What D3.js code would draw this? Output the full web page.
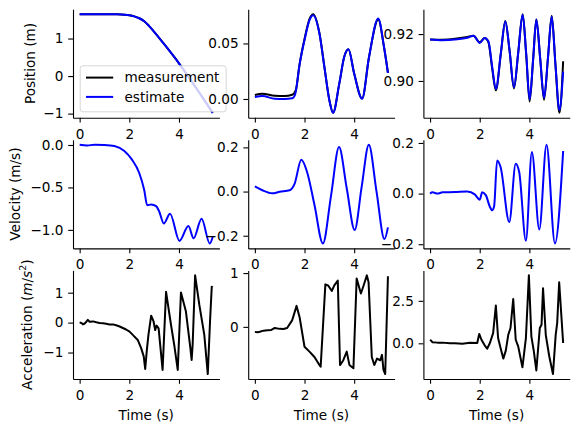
<!DOCTYPE html>
<html>
<head>
<meta charset="utf-8">
<script src="https://cdn.jsdelivr.net/npm/d3@7"></script>
<style>
  body { margin: 0; background: #fff; }
  svg text { font-family: "DejaVu Sans", sans-serif; font-size: 13.6px; fill: #000; }
</style>
</head>
<body>
<div id="chart"></div>
<script>
// --- values: [time (s), value] ---
const posXMeas = [[0,1.65],[0.5,1.65],[1.0,1.65],[1.5,1.645],[1.8,1.635],[2.0,1.62],[2.2,1.59],[2.4,1.54],[2.6,1.46],[2.8,1.33],[3.0,1.18],[3.5,0.77],[4.0,0.34],[4.5,-0.13],[5.0,-0.62],[5.36,-0.98]];
const posXEst = [[0,1.65],[0.5,1.65],[1.0,1.65],[1.5,1.645],[1.8,1.635],[2.0,1.62],[2.2,1.59],[2.4,1.54],[2.6,1.46],[2.8,1.33],[3.0,1.18],[3.5,0.77],[4.0,0.34],[4.5,-0.13],[5.0,-0.62],[5.36,-0.98]];

const posYMeas = [[0,0.0036],[0.3,0.0048],[0.8,0.003],[1.2,0.0027],[1.5,0.0038],[1.65,0.008],[1.8,0.031],[2.0,0.054],[2.2,0.072],[2.35,0.0764],[2.6,0.0595],[2.8,0.029],[3.0,-0.001],[3.15,-0.0124],[3.4,0.0138],[3.6,0.038],[3.77,0.0448],[4.0,0.0229],[4.32,0.0005],[4.6,0.038],[4.97,0.0715],[5.2,0.047],[5.36,0.0235]];
const posYEst = [[0,0.0018],[0.3,0.0027],[0.8,0.0002],[1.2,0.0],[1.5,0.0006],[1.62,0.004],[1.8,0.031],[2.0,0.053],[2.2,0.071],[2.35,0.0755],[2.6,0.059],[2.8,0.029],[3.0,-0.001],[3.15,-0.0125],[3.4,0.0138],[3.6,0.038],[3.77,0.0448],[4.0,0.0229],[4.32,0.0003],[4.6,0.038],[4.97,0.0725],[5.2,0.047],[5.36,0.0235]];

const posZMeas = [[0,0.9177],[0.5,0.9176],[1.0,0.918],[1.5,0.9188],[1.75,0.9193],[2.0,0.9165],[2.2,0.9183],[2.35,0.9165],[2.5,0.9055],[2.65,0.896],[2.85,0.9115],[3.03,0.9256],[3.2,0.913],[3.38,0.8968],[3.55,0.912],[3.73,0.9285],[3.87,0.9115],[4.01,0.8912],[4.15,0.909],[4.28,0.9263],[4.44,0.909],[4.59,0.892],[4.75,0.91],[4.9,0.9278],[5.05,0.907],[5.21,0.8864],[5.36,0.9084]];
const posZEst = [[0,0.9177],[0.5,0.9174],[1.0,0.9177],[1.5,0.9184],[1.75,0.9193],[2.0,0.9162],[2.2,0.9183],[2.35,0.9169],[2.5,0.9062],[2.65,0.8966],[2.85,0.9119],[3.03,0.9254],[3.2,0.9133],[3.38,0.8973],[3.55,0.912],[3.73,0.9282],[3.87,0.912],[4.01,0.8921],[4.15,0.909],[4.28,0.9261],[4.44,0.909],[4.59,0.8928],[4.75,0.91],[4.9,0.9275],[5.05,0.907],[5.21,0.8875],[5.36,0.904]];

const velX = [[0,0.003],[0.3,-0.006],[0.6,0.003],[1.0,0.0],[1.4,-0.012],[1.8,-0.07],[2.1,-0.17],[2.4,-0.33],[2.6,-0.53],[2.72,-0.71],[2.88,-0.70],[3.08,-0.72],[3.2,-0.78],[3.39,-0.925],[3.64,-0.81],[4.02,-1.13],[4.38,-0.955],[4.59,-1.1],[4.91,-0.87],[5.24,-1.16],[5.36,-1.08]];
const velY = [[0,0.023],[0.3,0.006],[0.7,-0.008],[1.0,-0.001],[1.4,0.006],[1.6,0.035],[1.87,0.144],[2.1,0.09],[2.4,-0.06],[2.74,-0.235],[3.07,-0.017],[3.39,0.2015],[3.7,0.015],[4.02,-0.174],[4.3,0.02],[4.59,0.212],[4.9,0.0],[5.22,-0.215],[5.36,-0.162]];
const velZ = [[0,0.0],[0.1,0.005],[0.3,0.0],[0.5,0.005],[1.0,0.006],[1.5,0.008],[1.8,-0.003],[2.0,-0.024],[2.1,0.005],[2.25,-0.007],[2.4,-0.05],[2.5,-0.066],[2.58,-0.05],[2.7,0.131],[2.84,0.105],[3.19,-0.112],[3.45,0.118],[3.59,0.085],[3.86,-0.186],[4.1,0.164],[4.4,-0.142],[4.69,0.193],[5.03,-0.197],[5.36,0.168]];

const accX = [[0,0],[0.07,-0.01],[0.13,-0.06],[0.2,-0.03],[0.27,0.03],[0.33,0.09],[0.4,0.03],[0.54,0.04],[0.67,0.01],[0.8,-0.01],[0.94,-0.02],[1.07,-0.04],[1.2,-0.06],[1.34,-0.06],[1.47,-0.09],[1.61,-0.13],[1.74,-0.18],[1.87,-0.23],[2.01,-0.3],[2.14,-0.41],[2.34,-0.58],[2.48,-0.86],[2.58,-1.13],[2.64,-1.55],[2.7,-0.97],[2.77,-0.41],[2.88,0.23],[2.98,0.03],[3.04,-0.25],[3.1,-0.1],[3.18,-0.19],[3.34,-1.58],[3.48,1.03],[3.68,-0.08],[3.81,-0.75],[3.95,-1.58],[4.08,1.01],[4.28,0.37],[4.46,-0.86],[4.51,-1.25],[4.55,-0.75],[4.65,1.58],[4.82,0.59],[5.02,-0.41],[5.16,-1.72],[5.25,0.03],[5.32,1.2],[5.36,1.17]];
const accY = [[0,-0.093],[0.1,-0.1],[0.2,-0.09],[0.35,-0.07],[0.5,-0.062],[0.65,-0.06],[0.8,-0.02],[1.0,-0.037],[1.15,-0.04],[1.3,-0.02],[1.5,0.12],[1.68,0.39],[1.8,0.185],[2.0,-0.37],[2.2,-0.46],[2.4,-0.56],[2.6,-0.71],[2.65,-0.74],[2.84,0.79],[2.95,0.77],[3.1,0.67],[3.2,0.77],[3.34,0.86],[3.43,-0.71],[3.55,-0.63],[3.7,-0.46],[3.81,-0.71],[3.97,-0.77],[4.1,0.9],[4.27,0.62],[4.38,0.77],[4.51,0.958],[4.58,0.83],[4.71,-0.56],[4.81,-0.71],[4.92,-0.59],[5.05,-0.62],[5.12,-0.52],[5.18,-0.8],[5.25,-0.877],[5.36,0.94]];
const accZ = [[0,0.2],[0.05,0.15],[0.1,0.06],[0.3,0.04],[0.5,0.04],[0.8,0.0],[1.0,0.0],[1.3,-0.02],[1.6,0.03],[1.9,0.02],[1.98,0.55],[2.07,0.21],[2.2,-0.12],[2.3,-0.32],[2.41,0.02],[2.54,0.6],[2.65,2.22],[2.74,0.31],[2.84,-0.27],[2.95,-0.9],[3.05,-0.43],[3.15,0.5],[3.24,0.9],[3.35,2.61],[3.45,0.21],[3.55,-0.18],[3.72,-1.41],[3.86,0.31],[3.98,4.0],[4.08,0.41],[4.18,-0.47],[4.28,-1.6],[4.42,0.9],[4.49,1.09],[4.55,3.24],[4.66,0.5],[4.8,-0.76],[4.95,-1.81],[5.06,0.5],[5.12,1.19],[5.2,3.59],[5.36,0.02]];

// tick values
const timeTicks = [0, 2, 4];
const posXTicks = [-1, 0, 1];
const posYTicks = [0.00, 0.05];
const posZTicks = [0.90, 0.92];
const velXTicks = [-1.0, -0.5, 0.0];
const velYTicks = [-0.2, 0.0, 0.2];
const velZTicks = [-0.2, 0.0, 0.2];
const accXTicks = [-1, 0, 1];
const accYTicks = [0, 1];
const accZTicks = [0.0, 2.5];

const legendLabels = ["measurement", "estimate"];
const xLabel = "Time (s)";

function ThreeByThree() {
    const width = 579, height = 432;
    const measColor = "#000000", estColor = "#0000ff";
    const axLeft0 = 73, colStep = 175.2, axW = 146.4;
    const axTop0 = 9.2, rowStep = 130.6, axH = 108.6;

    const panels = [
        {series: [[posXMeas, measColor], [posXEst, estColor]], ticks: posXTicks, ylabel: "Position (m)", labelX: -38, smooth: true, legend: true},
        {series: [[posYMeas, measColor], [posYEst, estColor]], ticks: posYTicks, smooth: true},
        {series: [[posZMeas, measColor], [posZEst, estColor]], ticks: posZTicks, smooth: true},
        {series: [[velX, estColor]], ticks: velXTicks, ylabel: "Velocity (m/s)", labelX: -53.5, smooth: true},
        {series: [[velY, estColor]], ticks: velYTicks, smooth: true},
        {series: [[velZ, estColor]], ticks: velZTicks, smooth: true},
        {series: [[accX, measColor]], ticks: accXTicks, ylabel: "accel", labelX: -41.5, smooth: false, xlabel: true},
        {series: [[accY, measColor]], ticks: accYTicks, smooth: false, xlabel: true},
        {series: [[accZ, measColor]], ticks: accZTicks, smooth: false, xlabel: true}
    ];

    // number of decimals matplotlib would show for a tick step
    function decimals(ticks) {
        const step = Math.abs(ticks[1] - ticks[0]);
        let d = 0;
        while (d < 6 && Math.abs(Math.round(step * 10 ** d) - step * 10 ** d) > 1e-6) d++;
        return d;
    }

    const svg = d3.select("#chart").append("svg")
        .attr("width", width)
        .attr("height", height)
        .attr("viewBox", [0, 0, width, height]);

    panels.forEach((p, i) => {
        const row = Math.floor(i / 3), col = i % 3;
        const left = axLeft0 + col * colStep, top = axTop0 + row * rowStep;
        const pts = p.series.flatMap(s => s[0]);
        const xe = d3.extent(pts, d => d[0]), ye = d3.extent(pts, d => d[1]);
        const xp = (xe[1] - xe[0]) * 0.05, yp = (ye[1] - ye[0]) * 0.05;

        const x = d3.scaleLinear().domain([xe[0] - xp, xe[1] + xp]).range([left, left + axW]);
        const y = d3.scaleLinear().domain([ye[0] - yp, ye[1] + yp]).range([top + axH, top]);

        const g = svg.append("g");
        const line = d3.line()
            .x(d => x(d[0]))
            .y(d => y(d[1]))
            .curve(p.smooth ? d3.curveMonotoneX : d3.curveLinear);

        g.selectAll("path.series")
            .data(p.series)
            .join("path")
            .attr("class", "series")
            .attr("d", s => line(s[0]))
            .attr("fill", "none")
            .attr("stroke", s => s[1])
            .attr("stroke-width", 2)
            .attr("stroke-linejoin", "round");

        const fmt = d3.format(`.${decimals(p.ticks)}f`);
        g.append("g")
            .attr("transform", `translate(${left},0)`)
            .call(d3.axisLeft(y).tickValues(p.ticks).tickFormat(fmt)
                .tickSize(4.8).tickPadding(4.8).tickSizeOuter(0))
            .call(a => a.selectAll("path, line").attr("stroke-width", 1.1));

        g.append("g")
            .attr("transform", `translate(0,${top + axH})`)
            .call(d3.axisBottom(x).tickValues(timeTicks).tickFormat(d3.format("d"))
                .tickSize(4.8).tickPadding(4.8).tickSizeOuter(0))
            .call(a => a.selectAll("path, line").attr("stroke-width", 1.1))
            .call(a => a.selectAll("text").attr("dy", "0.82em"));

        if (p.xlabel) {
            g.append("text")
                .attr("x", left + axW / 2)
                .attr("y", top + axH + 41)
                .attr("text-anchor", "middle")
                .text(xLabel);
        }

        if (p.ylabel) {
            const t = g.append("text")
                .attr("transform", `translate(${left + p.labelX},${top + axH / 2}) rotate(-90)`)
                .attr("text-anchor", "middle");
            if (p.ylabel === "accel") {
                t.append("tspan").text("Acceleration (");
                t.append("tspan").attr("font-style", "italic").text("m");
                t.append("tspan").text("/");
                t.append("tspan").attr("font-style", "italic").text("s");
                t.append("tspan").attr("dy", -5.5).style("font-size", "9.5px").text("2");
                t.append("tspan").attr("dy", 5.5).text(")");
            } else {
                t.text(p.ylabel);
            }
        }

        if (p.legend) {
            const lg = g.append("g");
            const lx = left + 7.2, ly = top + axH - 52;
            const box = lg.append("rect")
                .attr("x", lx).attr("y", ly)
                .attr("height", 46).attr("rx", 2.7)
                .attr("fill", "#ffffff").attr("fill-opacity", 0.8)
                .attr("stroke", "#cccccc").attr("stroke-opacity", 0.8).attr("stroke-width", 1);
            const items = lg.selectAll("g.item")
                .data(legendLabels)
                .join("g")
                .attr("class", "item")
                .attr("transform", (d, k) => `translate(${lx},${ly + 11.8 + k * 19.3})`);
            items.append("line")
                .attr("x1", 5.8).attr("x2", 33)
                .attr("stroke", (d, k) => k === 0 ? measColor : estColor)
                .attr("stroke-width", 2);
            items.append("text")
                .attr("x", 44.3).attr("dy", "0.35em")
                .text(d => d);
            const tw = d3.max(items.selectAll("text").nodes(), n => n.getComputedTextLength());
            box.attr("width", 44.3 + tw + 6.8);
        }
    });
}

ThreeByThree();
</script>
</body>
</html>
